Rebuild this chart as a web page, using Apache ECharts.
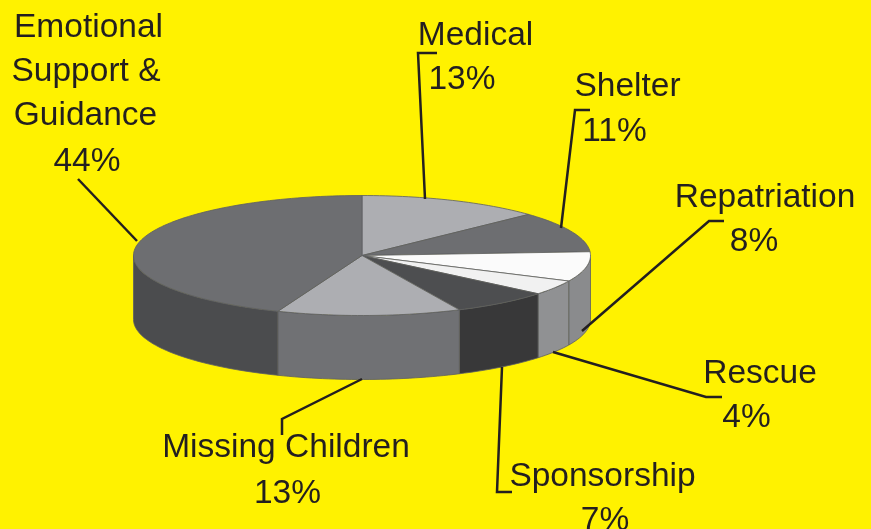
<!DOCTYPE html>
<html>
<head>
<meta charset="utf-8">
<style>html,body{margin:0;padding:0;background:#fff200}#chart{width:871px;height:529px}</style>
<script src="https://cdn.jsdelivr.net/npm/echarts@6/dist/echarts.min.js"></script>
</head>
<body>
<div id="chart"></div>
<script>
// Shares of assistance by type, clockwise from twelve o'clock
const categories = ['Medical', 'Shelter', 'Repatriation', 'Rescue', 'Sponsorship', 'Missing Children', 'Emotional Support & Guidance'];
const shares = [13, 11, 8, 4, 7, 13, 44];

// Slice colours
const topColors = ['#adaeb2', '#6d6e71', '#fbfbfb', '#f1f1f1', '#4d4e50', '#adaeb2', '#6d6e71'];
const wallColors = ['#8a8b8d', '#8a8b8d', '#8a8b8d', '#909193', '#383839', '#707174', '#4b4c4e'];

// Text rows per slice: [text, centre x, baseline y]
const labelRows = [
  [['Medical', 475.5, 44], ['13%', 462, 88]],
  [['Shelter', 627.5, 95], ['11%', 614.5, 140]],
  [['Repatriation', 765, 206], ['8%', 754, 250]],
  [['Rescue', 760, 382], ['4%', 746.5, 426]],
  [['Sponsorship', 602.5, 485], ['7%', 605, 529]],
  [['Missing Children', 286, 456], ['13%', 287.5, 502]],
  [['Emotional', 88.5, 36], ['Support &', 86, 80], ['Guidance', 85.5, 124], ['44%', 87, 170]]
];

// Callout leader lines per slice
const leaders = [
  [[437, 53], [418, 53], [425, 199]],
  [[590, 110], [575, 110], [561, 228]],
  [[724, 221], [709, 221], [582, 331]],
  [[553, 352], [706, 397], [722, 397]],
  [[512, 492], [497, 492], [502, 367]],
  [[282, 435], [282, 419], [362, 379]],
  [[78, 179], [137, 241]]
];

// Projection of the disc
const cx = 362, cy = 255.5, rx = 228.5, ry = 60, depth = 64;
const INK = '#231f20', EDGE = '#5d5e61';
const FONT_SIZE = 33.5, BASELINE_DROP = 8.5;
const total = shares.reduce((a, b) => a + b, 0);

const rimPoint = (deg, dy) => {
  const t = deg * Math.PI / 180;
  return [cx + rx * Math.sin(t), cy - ry * Math.cos(t) + (dy || 0)];
};
const arc = (from, to, dy) => {
  const n = Math.max(2, Math.ceil(Math.abs(to - from) / 1.5));
  const pts = [];
  for (let i = 0; i <= n; i++) pts.push(rimPoint(from + (to - from) * i / n, dy));
  return pts;
};

function renderSlice(params, api) {
  const i = params.dataIndex;
  let before = 0;
  for (let k = 0; k < i; k++) before += shares[k];
  const start = before / total * 360;
  const end = start + api.value(0) / total * 360;
  const children = [];

  // Side wall: only the front half of the rim is visible
  const wallStart = Math.max(start, 90), wallEnd = Math.min(end, 270);
  if (wallEnd > wallStart) {
    children.push({
      type: 'polygon', z2: 1,
      shape: { points: arc(wallStart, wallEnd, 0).concat(arc(wallEnd, wallStart, depth)) },
      style: { fill: wallColors[i], stroke: EDGE, lineWidth: 0.8 }
    });
  }

  // Top face
  children.push({
    type: 'polygon', z2: 2,
    shape: { points: [[cx, cy]].concat(arc(start, end, 0)) },
    style: { fill: topColors[i], stroke: EDGE, lineWidth: 0.8 }
  });

  // Leader line
  children.push({
    type: 'polyline', z2: 4,
    shape: { points: leaders[i] },
    style: { fill: 'none', stroke: INK, lineWidth: 2.5 }
  });

  // Label text
  labelRows[i].forEach(row => {
    children.push({
      type: 'text', z2: 5,
      style: {
        text: row[0], x: row[1], y: row[2] + BASELINE_DROP,
        fill: INK, align: 'center', verticalAlign: 'bottom',
        font: FONT_SIZE + 'px "Liberation Sans", Arial, sans-serif'
      }
    });
  });
  return { type: 'group', children };
}

const chart = echarts.init(document.getElementById('chart'), null, { renderer: 'canvas' });
chart.setOption({
  backgroundColor: '#fff200',
  animation: false,
  series: [{
    type: 'custom',
    coordinateSystem: 'none',
    renderItem: renderSlice,
    clip: false,
    data: categories.map((name, i) => ({ name, value: [shares[i]] }))
  }]
});
</script>
</body>
</html>
